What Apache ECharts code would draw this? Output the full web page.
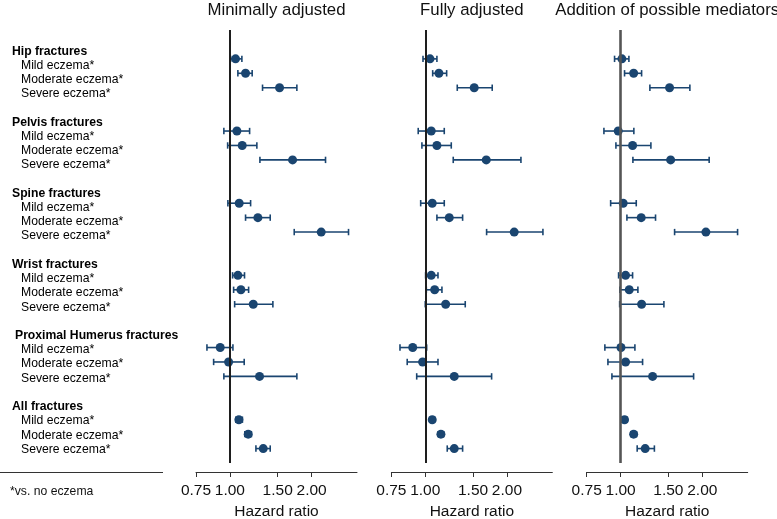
<!DOCTYPE html>
<html>
<head>
<meta charset="utf-8">
<script src="https://cdn.jsdelivr.net/npm/echarts@6/dist/echarts.min.js"></script>
<style>html,body{margin:0;padding:0;background:#fff}#c{width:777px;height:519px}</style>
</head>
<body>
<div id="c"></div>
<script>
const groups = ['Hip fractures', 'Pelvis fractures', 'Spine fractures', 'Wrist fractures', 'Proximal Humerus fractures', 'All fractures'];
const severities = ['Mild eczema*', 'Moderate eczema*', 'Severe eczema*'];
const panelTitles = ['Minimally adjusted', 'Fully adjusted', 'Addition of possible mediators'];
const tickValues = [0.75, 1.00, 1.50, 2.00];
const tickLabels = ['0.75', '1.00', '1.50', '2.00'];
const axisName = 'Hazard ratio';
const footnote = '*vs. no eczema';

// Minimally adjusted
const hrMinimal = [1.049, 1.142, 1.524, 1.061, 1.110, 1.702, 1.082, 1.268, 2.170, 1.070, 1.098, 1.219, 0.921, 0.989, 1.286, 1.079, 1.168, 1.327];
const loMinimal = [1.006, 1.070, 1.319, 0.950, 0.981, 1.290, 0.983, 1.142, 1.726, 1.023, 1.032, 1.041, 0.823, 0.871, 0.950, 1.052, 1.135, 1.247];
const hiMinimal = [1.107, 1.208, 1.765, 1.182, 1.257, 2.251, 1.192, 1.408, 2.736, 1.132, 1.172, 1.440, 1.026, 1.129, 1.765, 1.112, 1.200, 1.408];
// Fully adjusted
const hrFull = [1.041, 1.123, 1.515, 1.052, 1.104, 1.678, 1.061, 1.226, 2.127, 1.052, 1.083, 1.189, 0.899, 0.978, 1.279, 1.061, 1.142, 1.279];
const loFull = [0.981, 1.065, 1.312, 0.942, 0.972, 1.268, 0.962, 1.104, 1.683, 1.003, 1.009, 1.000, 0.807, 0.858, 0.930, 1.040, 1.115, 1.205];
const hiFull = [1.104, 1.199, 1.765, 1.175, 1.247, 2.252, 1.175, 1.373, 2.714, 1.114, 1.152, 1.404, 1.012, 1.114, 1.756, 1.082, 1.170, 1.373];
// Addition of possible mediators
const hrMed = [1.011, 1.117, 1.515, 0.980, 1.107, 1.529, 1.022, 1.191, 2.062, 1.043, 1.076, 1.195, 1.003, 1.043, 1.312, 1.034, 1.117, 1.232];
const loMed = [0.950, 1.034, 1.282, 0.868, 0.961, 1.110, 0.919, 1.055, 1.581, 0.983, 0.994, 0.992, 0.875, 0.898, 0.929, 1.010, 1.090, 1.151];
const hiMed = [1.073, 1.195, 1.800, 1.119, 1.293, 2.120, 1.142, 1.345, 2.698, 1.107, 1.158, 1.444, 1.129, 1.205, 1.858, 1.058, 1.145, 1.332];

const panels = [
  {hr: hrMinimal, lo: loMinimal, hi: hiMinimal},
  {hr: hrFull, lo: loFull, hi: hiFull},
  {hr: hrMed, lo: loMed, hi: hiMed}
];

const FONT = 'Liberation Sans, Arial, Helvetica, sans-serif';
const COLOR = '#1a4570';
const xMin = 0.75, xMax = 2.94;
const refLine = [{c: '#1e1e1e', w: 2}, {c: '#1e1e1e', w: 2}, {c: '#555555', w: 2.6}];

function rowPos(k) { return Math.floor(k / 3) * 5 + (k % 3) + 1; }
const ln = Math.log;

const grids = [], xAxes = [], yAxes = [], series = [];
panels.forEach((p, i) => {
  grids.push({left: 196 + 195.35 * i, width: 161, top: 30, height: 433, containLabel: false, outerBoundsMode: 'none'});
  xAxes.push({
    type: 'value', gridIndex: i, min: ln(xMin), max: ln(xMax), position: 'bottom',
    offset: 9, splitLine: {show: false},
    axisLine: {show: true, onZero: false, lineStyle: {color: '#333', width: 1}},
    axisTick: {show: true, customValues: tickValues.map(ln), length: 5, inside: false, lineStyle: {color: '#333', width: 1}},
    axisLabel: {
      show: true, customValues: tickValues.map(ln), margin: 11,
      fontFamily: FONT, fontSize: 15.5, color: '#111',
      formatter: v => { const j = tickValues.findIndex(t => Math.abs(ln(t) - v) < 1e-6); return j >= 0 ? tickLabels[j] : ''; }
    },
    name: axisName, nameLocation: 'middle', nameGap: 30,
    nameTextStyle: {fontFamily: FONT, fontSize: 15.5, color: '#111'}
  });
  yAxes.push({type: 'value', gridIndex: i, min: -1, max: 29, inverse: true, show: false});
  series.push({
    type: 'custom', xAxisIndex: i, yAxisIndex: i, z: 2,
    encode: {x: [0, 1], y: 2},
    data: p.hr.map((_, k) => [ln(p.lo[k]), ln(p.hi[k]), rowPos(k)]),
    renderItem: (params, api) => {
      const a = api.coord([api.value(0), api.value(2)]);
      const b = api.coord([api.value(1), api.value(2)]);
      const h = 3.2;
      const st = {stroke: COLOR, lineWidth: 1.6};
      return {type: 'group', children: [
        {type: 'line', shape: {x1: a[0], y1: a[1], x2: b[0], y2: b[1]}, style: st},
        {type: 'line', shape: {x1: a[0], y1: a[1] - h, x2: a[0], y2: a[1] + h}, style: st},
        {type: 'line', shape: {x1: b[0], y1: b[1] - h, x2: b[0], y2: b[1] + h}, style: st}
      ]};
    }
  });
  series.push({
    type: 'scatter', xAxisIndex: i, yAxisIndex: i, z: 3,
    symbol: 'circle', symbolSize: 9, itemStyle: {color: COLOR, opacity: 1},
    data: p.hr.map((v, k) => [ln(v), rowPos(k)]),
    markLine: {
      silent: true, symbol: 'none', label: {show: false}, animation: false,
      lineStyle: {color: refLine[i].c, width: refLine[i].w, type: 'solid'},
      data: [{xAxis: 0}]
    }
  });
});
// hidden grid used to place the row labels
grids.push({left: 0, width: 10, top: 37, height: 426.6, containLabel: false, outerBoundsMode: 'none'});
xAxes.push({type: 'value', gridIndex: 3, show: false});
yAxes.push({type: 'value', gridIndex: 3, min: -1, max: 29, inverse: true, show: false});

const chart = echarts.init(document.getElementById('c'), null, {renderer: 'canvas'});
chart.setOption({
  animation: false,
  backgroundColor: '#fff',
  grid: grids, xAxis: xAxes, yAxis: yAxes, series: series
});

const graphics = [];
panelTitles.forEach((t, i) => {
  graphics.push({type: 'text', x: 196 + 195.35 * i + 80.5, y: 10,
    style: {text: t, font: '16.8px ' + FONT, fill: '#111', textAlign: 'center', textVerticalAlign: 'middle'}});
});
groups.forEach((g, gi) => {
  const yh = chart.convertToPixel({yAxisIndex: 3}, gi * 5);
  graphics.push({type: 'text', x: gi === 4 ? 15 : 12, y: yh,
    style: {text: g, font: 'bold 12.2px ' + FONT, fill: '#000', textAlign: 'left', textVerticalAlign: 'middle'}});
  severities.forEach((s, si) => {
    const y = chart.convertToPixel({yAxisIndex: 3}, gi * 5 + si + 1);
    graphics.push({type: 'text', x: 21, y: y,
      style: {text: s, font: '12.2px ' + FONT, fill: '#000', textAlign: 'left', textVerticalAlign: 'middle'}});
  });
});
graphics.push({type: 'line', shape: {x1: 0, y1: 472.5, x2: 163, y2: 472.5}, style: {stroke: '#333', lineWidth: 1}});
graphics.push({type: 'text', x: 10, y: 492,
  style: {text: footnote, font: '12.2px ' + FONT, fill: '#111', textAlign: 'left', textVerticalAlign: 'middle'}});
chart.setOption({graphic: graphics});
</script>
</body>
</html>
